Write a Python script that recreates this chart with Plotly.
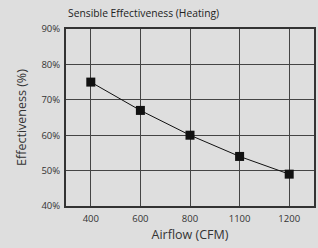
import plotly.graph_objects as go

airflow = ["400", "600", "800", "1100", "1200"]
effectiveness = [75, 67, 60, 54, 49]
y_ticks = [40, 50, 60, 70, 80, 90]
y_tick_labels = ["40%", "50%", "60%", "70%", "80%", "90%"]

bg = "#dedede"
fig = go.Figure()
fig.add_trace(go.Scatter(
    x=airflow, y=effectiveness, mode="lines+markers",
    line=dict(color="#111111", width=1),
    marker=dict(symbol="square", size=9, color="#111111"),
    showlegend=False, cliponaxis=False,
))
fig.update_layout(
    width=318, height=248,
    margin=dict(l=66, r=4, t=29, b=42, autoexpand=False),
    paper_bgcolor=bg, plot_bgcolor=bg,
    font=dict(family="Open Sans", color="#333333", size=10),
    title=dict(text="Sensible Effectiveness (Heating)", x=68/318, xanchor="left",
               y=1-13/248, yanchor="middle", font=dict(size=10.3, color="#222222")),
)
fig.update_xaxes(
    type="category", range=[-0.5, 4.5], automargin=False,
    showgrid=True, gridcolor="#444444", gridwidth=1,
    showline=True, linecolor="#333333", linewidth=2, mirror=True,
    ticks="", tickfont=dict(size=9.5, color="#333333"), ticklabelstandoff=3,
    title=dict(text="Airflow (CFM)", font=dict(size=12.5, color="#333333"), standoff=6),
)
fig.update_yaxes(
    range=[40, 90], tickvals=y_ticks, ticktext=y_tick_labels, automargin=False,
    showgrid=True, gridcolor="#444444", gridwidth=1,
    showline=True, linecolor="#333333", linewidth=2, mirror=True,
    ticks="", tickfont=dict(size=9.5, color="#333333"), ticklabelstandoff=2,
    title=dict(text="Effectiveness (%)", font=dict(size=12.5, color="#333333"), standoff=12),
    zeroline=False,
)
post = (
    "document.body.style.margin='0';"
    "document.body.style.overflow='hidden';"
    "document.documentElement.style.background='%s';"
    "var gd=document.getElementById('{plot_id}');"
    "Plotly.relayout(gd,{width:318,height:248});" % bg
)
fig.write_html("out.html", config={"responsive": False, "displayModeBar": False},
               post_script=post)
